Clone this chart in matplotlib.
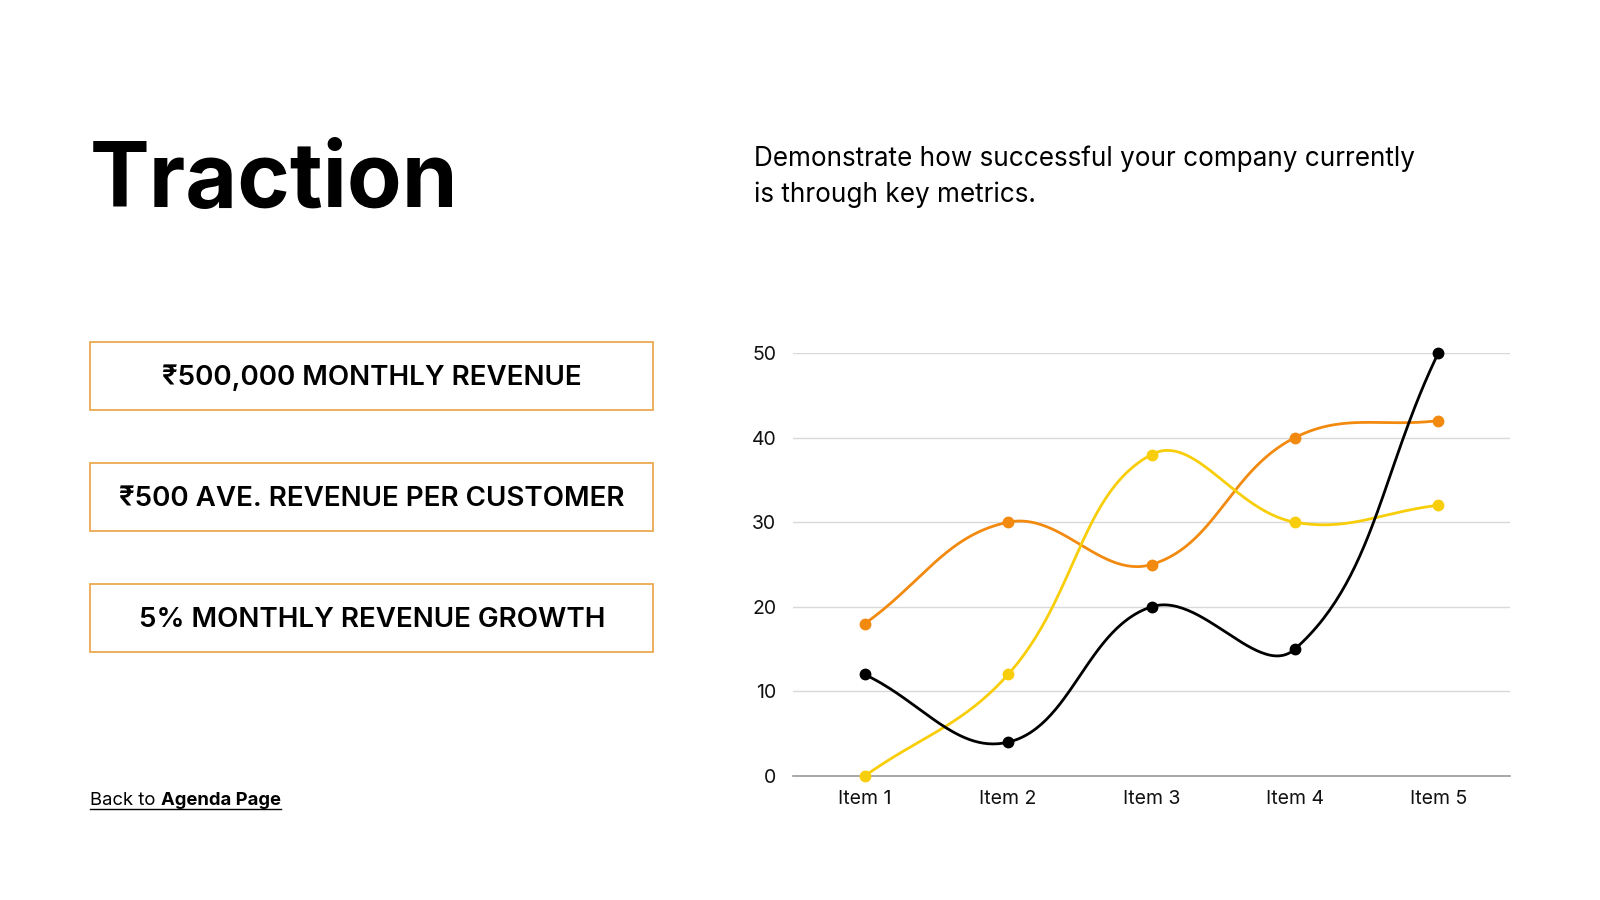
import numpy as np
import matplotlib
matplotlib.use("Agg")
import matplotlib.pyplot as plt
from matplotlib.patches import Rectangle
from matplotlib.lines import Line2D

plt.rcParams['font.family'] = ['Inter', 'DejaVu Sans']

# ---- data ----
items = ["Item 1", "Item 2", "Item 3", "Item 4", "Item 5"]
black_vals = [12, 4, 20, 15, 50]
orange_vals = [18, 30, 25, 40, 42]
yellow_vals = [0, 12, 38, 30, 32]
yticks = [0, 10, 20, 30, 40, 50]
metrics = ["₹500,000 MONTHLY REVENUE", "₹500 AVE. REVENUE PER CUSTOMER", "5% MONTHLY REVENUE GROWTH"]

BLACK, ORANGE, YELLOW = "#000000", "#F28A0F", "#F8CE0B"
W, H = 1600, 900

def spline(xs, ys, sx, sy, t=0.4, n=60):
    # chart.js-style spline, control points computed in pixel space
    P = np.column_stack([np.asarray(xs, float) * sx, np.asarray(ys, float) * sy])
    k = len(P)
    cin, cout = P.copy(), P.copy()
    for i in range(k):
        prev = P[i - 1] if i > 0 else P[i]
        nxt = P[i + 1] if i < k - 1 else P[i]
        d01 = np.linalg.norm(P[i] - prev); d12 = np.linalg.norm(nxt - P[i])
        tot = d01 + d12
        s01 = d01 / tot if tot else 0; s12 = d12 / tot if tot else 0
        cin[i] = P[i] - t * s01 * (nxt - prev)
        cout[i] = P[i] + t * s12 * (nxt - prev)
    u = np.linspace(0, 1, n)[:, None]
    segs = []
    for i in range(k - 1):
        a, b, c, d = P[i], cout[i], cin[i + 1], P[i + 1]
        segs.append((1-u)**3*a + 3*(1-u)**2*u*b + 3*(1-u)*u**2*c + u**3*d)
    out = np.vstack(segs)
    return out[:, 0] / sx, out[:, 1] / sy

fig = plt.figure(figsize=(16, 9), dpi=100)
fig.patch.set_facecolor("white")

# title + subtitle
fig.text(90 / W, 1 - 207 / H, "Traction", fontsize=64.5, fontweight="bold", ha="left", va="baseline")
fig.text(754 / W, 1 - 166 / H, "Demonstrate how successful your company currently", fontsize=18.8, va="baseline")
fig.text(754 / W, 1 - 202 / H, "is through key metrics.", fontsize=18.8, va="baseline")

# metric boxes
box_tops = [342, 463, 584]
for top, label in zip(box_tops, metrics):
    fig.patches.append(Rectangle((90 / W, 1 - (top + 68) / H), 563 / W, 68 / H,
                                 transform=fig.transFigure, fill=False,
                                 edgecolor="#EBAA50", lw=1.3))
    fig.text(372 / W, 1 - (top + 36) / H, label, fontsize=20, fontweight="semibold",
             ha="center", va="center")

# back link
base = 1 - 805 / H
t1 = fig.text(90 / W, base, "Back to ", fontsize=13.3, va="baseline")
fig.canvas.draw()
r = fig.canvas.get_renderer()
bb1 = t1.get_window_extent(r)
t2 = fig.text(bb1.x1 / W, base, "Agenda Page", fontsize=13.3, fontweight="bold", va="baseline")
bb2 = t2.get_window_extent(r)
uy = 1 - 809 / H
fig.lines.append(Line2D([90 / W, bb2.x1 / W], [uy, uy], transform=fig.transFigure, color="black", lw=1))

# chart
ax = fig.add_axes([793 / W, 1 - 776 / H, (1510 - 793) / W, (776 - 353) / H])
x = np.arange(1, len(items) + 1)
sx, sy = 143.4, 8.46
for vals, col in [(orange_vals, ORANGE), (yellow_vals, YELLOW), (black_vals, BLACK)]:
    cx, cy = spline(x, vals, sx, sy)
    ax.plot(cx, cy, color=col, lw=2, clip_on=False, zorder=3, solid_capstyle="round")
    ax.plot(x, vals, "o", color=col, ms=7.5, clip_on=False, zorder=4)

ax.set_xlim(0.5, 5.5)
ax.set_ylim(0, 50)
ax.set_yticks(yticks)
ax.set_xticks(x)
ax.set_xticklabels(items)
for s in ["top", "right", "left"]:
    ax.spines[s].set_visible(False)
ax.spines["bottom"].set_color("#9A9A9A")
ax.spines["bottom"].set_linewidth(1.2)
ax.grid(axis="y", color="#D9D9D9", lw=1)
ax.set_axisbelow(True)
ax.tick_params(length=0, labelsize=14, colors="#111111")
ax.tick_params(axis="y", pad=12)
ax.tick_params(axis="x", pad=10)

fig.savefig("out.png", dpi=100, facecolor="white")
